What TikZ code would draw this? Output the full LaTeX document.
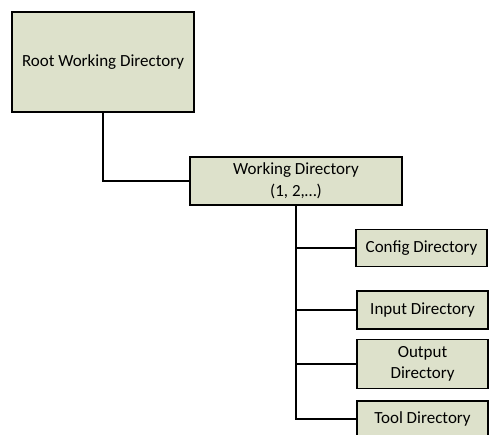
\documentclass[tikz,border=0pt]{standalone}
\usepackage{fontspec}
\setmainfont{Carlito}
\usepackage{tikz}
\usetikzlibrary{positioning}
\definecolor{dirfill}{RGB}{221,225,203}
\tikzset{dir/.style={rectangle,draw,fill=dirfill,line width=1.5pt,inner sep=0pt,align=center,font=\fontsize{17}{21.5}\selectfont}}

\begin{document}
\begin{tikzpicture}[x=1pt,y=-1pt,line width=1.5pt]
    \clip (0,0) rectangle (489,434);
    \fill[white] (0,0) rectangle (489,434);
    \node[dir,minimum width=182pt,minimum height=100pt] (root) at (103,62) {Root Working Directory};
    \node[dir,minimum width=212pt,minimum height=48pt] (work) at (296,181) {Working Directory\\(1, 2,…)};
    \node[dir,minimum width=131pt,minimum height=37pt] (cfg) at (421.5,248) {Config Directory};
    \node[dir,minimum width=131pt,minimum height=38pt] (inp) at (422.5,310) {Input Directory};
    \node[dir,minimum width=131pt,minimum height=49pt] (outp) at (422.5,364) {Output\\Directory};
    \node[dir,minimum width=131pt,minimum height=36pt] (tool) at (422.5,419) {Tool Directory};

    \draw [] (root) |- (work);
    \draw [] (work) |- (cfg);
    \draw [] (work) |- (inp);
    \draw [] (work) |- (outp);
    \draw [] (work) |- (tool);
\end{tikzpicture}
\end{document}
